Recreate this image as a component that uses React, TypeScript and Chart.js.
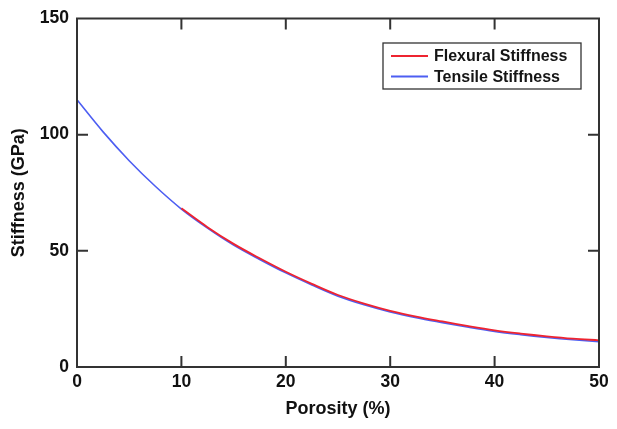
import React, { useEffect, useRef } from "react";
import { Chart, registerables } from "chart.js";

Chart.register(...registerables);

const porosity = [0, 2.5, 5, 7.5, 10, 12.5, 15, 17.5, 20, 22.5, 25, 27.5, 30, 32.5, 35, 37.5, 40, 42.5, 45, 47.5, 50];
const tensile = [115, 101.2, 88.8, 77.8, 68, 59.8, 52.5, 46.3, 40.5, 35.3, 30.5, 26.8, 23.7, 21.2, 19.1, 17.1, 15.3, 13.9, 12.7, 11.7, 10.9];
const flexural = [null, null, null, null, 68.3, 60.2, 53.0, 46.8, 41.0, 35.8, 31.0, 27.3, 24.2, 21.7, 19.6, 17.6, 15.8, 14.4, 13.2, 12.2, 11.5];
const xTicks = [10, 20, 30, 40];
const yTicks = [50, 100];
const seriesLabels = ["Flexural Stiffness", "Tensile Stiffness"];
const seriesColors = ["#ee2430", "#4d5ef2"];

const FONT = "'Liberation Sans', Arial, Helvetica, sans-serif";

const framePlugin = {
  id: "frame",
  afterDraw(chart: any) {
    const { ctx, chartArea } = chart;
    const { left, right, top, bottom } = chartArea;
    const xs = chart.scales.x;
    const ys = chart.scales.y;
    ctx.save();
    ctx.strokeStyle = "#333333";
    ctx.lineWidth = 2;
    ctx.strokeRect(left, top, right - left, bottom - top);
    const tl = 11;
    ctx.beginPath();
    xTicks.forEach((v) => {
      const px = xs.getPixelForValue(v);
      ctx.moveTo(px, bottom);
      ctx.lineTo(px, bottom - tl);
      ctx.moveTo(px, top);
      ctx.lineTo(px, top + tl);
    });
    yTicks.forEach((v) => {
      const py = ys.getPixelForValue(v);
      ctx.moveTo(left, py);
      ctx.lineTo(left + tl, py);
      ctx.moveTo(right, py);
      ctx.lineTo(right - tl, py);
    });
    ctx.stroke();

    // legend
    const bx = 383, by = 43, bw = 198, bh = 46;
    ctx.fillStyle = "#ffffff";
    ctx.fillRect(bx, by, bw, bh);
    ctx.lineWidth = 1.3;
    ctx.strokeStyle = "#333333";
    ctx.strokeRect(bx, by, bw, bh);
    const rows = [56, 76.5];
    seriesLabels.forEach((lab, i) => {
      ctx.strokeStyle = seriesColors[i];
      ctx.lineWidth = 2;
      ctx.beginPath();
      ctx.moveTo(391, rows[i]);
      ctx.lineTo(428, rows[i]);
      ctx.stroke();
      ctx.fillStyle = "#151515";
      ctx.font = `bold 16px ${FONT}`;
      ctx.textBaseline = "middle";
      ctx.textAlign = "left";
      ctx.fillText(lab, 434, rows[i] + 1);
    });
    ctx.restore();
  },
};

export default function App() {
  const ref = useRef<HTMLCanvasElement>(null);
  useEffect(() => {
    if (!ref.current) return;
    const chart = new Chart(ref.current, {
      type: "line",
      data: {
        datasets: [
          {
            label: seriesLabels[0],
            data: porosity.map((x, i) => ({ x, y: flexural[i] })),
            borderColor: seriesColors[0],
            borderWidth: 1.8,
            pointRadius: 0,
            tension: 0.35,
            spanGaps: false,
          },
          {
            label: seriesLabels[1],
            data: porosity.map((x, i) => ({ x, y: tensile[i] })),
            borderColor: seriesColors[1],
            borderWidth: 1.6,
            pointRadius: 0,
            tension: 0.35,
          },
        ],
      },
      options: {
        animation: false,
        responsive: false,
        layout: { padding: { top: 14, right: 18, bottom: 0, left: 0 } },
        plugins: { legend: { display: false }, tooltip: { enabled: false } },
        scales: {
          x: {
            type: "linear",
            min: 0,
            max: 50,
            grid: { display: false, drawTicks: false },
            border: { display: false },
            ticks: { stepSize: 10, padding: 5, color: "#111", font: { family: FONT, size: 17.5, weight: "bold" } },
            title: {
              display: true,
              text: "Porosity (%)",
              color: "#111",
              font: { family: FONT, size: 18, weight: "bold" },
              padding: { top: 0, bottom: 9 },
            },
            afterFit: (s: any) => {
              s.height = 62;
            },
          },
          y: {
            min: 0,
            max: 150,
            grid: { display: false, drawTicks: false },
            border: { display: false },
            ticks: { stepSize: 50, padding: 8, color: "#111", font: { family: FONT, size: 17.5, weight: "bold" } },
            title: {
              display: true,
              text: "Stiffness (GPa)",
              color: "#111",
              font: { family: FONT, size: 18, weight: "bold" },
              padding: { top: 8, bottom: 0 },
            },
            afterFit: (s: any) => {
              s.width = 77;
            },
          },
        },
      },
      plugins: [framePlugin],
    } as any);
    return () => chart.destroy();
  }, []);
  return (
    <div style={{ position: "absolute", left: 0, top: 0, width: 617, height: 429, background: "#fff" }}>
      <canvas ref={ref} width={617} height={429} style={{ display: "block" }} />
    </div>
  );
}
